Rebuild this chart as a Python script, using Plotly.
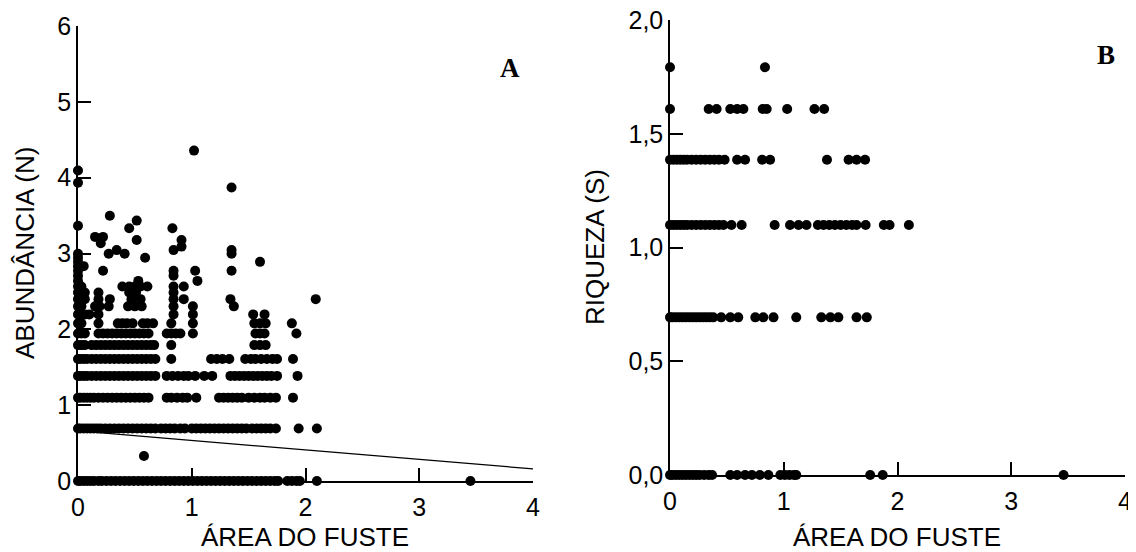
import plotly.graph_objects as go

# ---------------- Panel A : ABUNDÂNCIA (N) vs ÁREA DO FUSTE ----------------
# x positions (área do fuste) of points lying on each abundance level (ln N)
area_A_lvl_000 = [0, 0.02, 0.05, 0.08, 0.11, 0.14, 0.18, 0.21, 0.25, 0.29, 0.33, 0.37, 0.41, 0.45,
                  0.49, 0.53, 0.57, 0.61, 0.65, 0.69, 0.73, 0.77, 0.81, 0.85, 0.89, 0.93, 0.97, 1.01,
                  1.05, 1.09, 1.13, 1.17, 1.21, 1.25, 1.29, 1.33, 1.37, 1.41, 1.45, 1.49, 1.53, 1.57,
                  1.61, 1.65, 1.69, 1.73, 1.76, 1.84, 1.88, 1.92, 1.95, 2.1, 3.45]
area_A_lvl_069 = [0, 0.02, 0.05, 0.08, 0.11, 0.14, 0.17, 0.2, 0.24, 0.28, 0.32, 0.36, 0.4, 0.44,
                  0.48, 0.52, 0.56, 0.6, 0.64, 0.68, 0.73, 0.77, 0.81, 0.85, 0.9, 0.94, 1.0, 1.04,
                  1.08, 1.12, 1.16, 1.2, 1.24, 1.28, 1.32, 1.36, 1.4, 1.44, 1.48, 1.53, 1.57, 1.61,
                  1.65, 1.69, 1.74, 1.94, 2.1]
area_A_lvl_110 = [0, 0.02, 0.05, 0.08, 0.11, 0.14, 0.18, 0.22, 0.26, 0.3, 0.34, 0.38, 0.42, 0.46,
                  0.5, 0.54, 0.58, 0.62, 0.78, 0.82, 0.87, 0.92, 0.96, 1.04, 1.24, 1.28, 1.32, 1.36,
                  1.4, 1.44, 1.5, 1.55, 1.6, 1.64, 1.69, 1.74, 1.89]
area_A_lvl_139 = [0, 0.02, 0.05, 0.08, 0.12, 0.16, 0.2, 0.24, 0.28, 0.32, 0.36, 0.4, 0.44, 0.48,
                  0.52, 0.56, 0.6, 0.64, 0.68, 0.78, 0.83, 0.88, 0.93, 0.97, 1.03, 1.11, 1.18, 1.34,
                  1.38, 1.42, 1.46, 1.5, 1.54, 1.58, 1.62, 1.66, 1.7, 1.75, 1.93]
area_A_lvl_161 = [0, 0.02, 0.05, 0.08, 0.12, 0.16, 0.2, 0.24, 0.28, 0.32, 0.36, 0.4, 0.44, 0.48,
                  0.52, 0.56, 0.6, 0.64, 0.68, 0.82, 1.17, 1.22, 1.27, 1.33, 1.47, 1.52, 1.56, 1.61,
                  1.66, 1.71, 1.75, 1.89]
area_A_lvl_179 = [0, 0.03, 0.06, 0.12, 0.16, 0.2, 0.24, 0.28, 0.32, 0.36, 0.4, 0.44, 0.48, 0.52,
                  0.56, 0.6, 0.64, 0.67, 0.82, 1.55, 1.6, 1.65]
area_A_lvl_195 = [0, 0.03, 0.06, 0.18, 0.22, 0.26, 0.3, 0.34, 0.38, 0.42, 0.46, 0.5, 0.54, 0.58,
                  0.62, 0.78, 0.82, 0.86, 0.9, 1.01, 1.56, 1.6, 1.64, 1.92]

# sparse upper points (paired x / y)
upper_area_A = [0, 0.03, 0.18, 0.35, 0.39, 0.43, 0.48, 0.57, 0.61, 0.66, 0.82, 1.01, 1.55, 1.6, 1.65, 1.88,
                0, 0.03, 0.06, 0.1, 0.18, 0.84, 1.01, 1.54, 1.64,
                0, 0.03, 0.15, 0.19, 0.27, 0.44, 0.5, 0.56, 0.84, 1.01, 1.37,
                0, 0.03, 0.06, 0.18, 0.28, 0.47, 0.55, 0.84, 0.93, 1.34, 2.09,
                0, 0.06, 0.18, 0.45, 0.51, 0.84,
                0, 0.03, 0.39, 0.45, 0.5, 0.55, 0.61, 0.84, 0.93,
                0, 0.53, 1.05,
                0, 0.84,
                0, 0.22, 0.84, 1.03, 1.35,
                0, 0.05,
                0, 1.6,
                0, 0.59,
                0, 0.27, 0.41, 1.35,
                0.34, 0.84, 1.35,
                0.91,
                0.2,
                0.516, 0.91,
                0.15, 0.22,
                0.45, 0.83,
                0,
                0.516,
                0.28,
                1.35,
                0,
                0,
                1.02,
                0.58]
upper_abund_A = [2.079] * 16 + [2.197] * 9 + [2.303] * 11 + [2.398] * 11 + [2.485] * 6 + \
                [2.565] * 9 + [2.639] * 3 + [2.708] * 2 + [2.773] * 5 + [2.833] * 2 + \
                [2.890] * 2 + [2.944] * 2 + [2.996] * 4 + [3.045] * 3 + [3.091] + [3.135] + \
                [3.178] * 2 + [3.219] * 2 + [3.332] * 2 + [3.367] + [3.434] + [3.497] + \
                [3.871] + [3.932] + [4.094] + [4.357] + [0.33]

# fitted regression line (end points)
fit_area_A = [0, 4]
fit_abund_A = [0.66, 0.16]

# ---------------- Panel B : RIQUEZA (S) vs ÁREA DO FUSTE ----------------
area_B_lvl_000 = [0, 0.02, 0.05, 0.08, 0.11, 0.14, 0.17, 0.2, 0.23, 0.26, 0.3, 0.34, 0.37, 0.53,
                  0.59, 0.66, 0.72, 0.79, 0.865, 0.97, 1.01, 1.05, 1.09, 1.11, 1.76, 1.87, 3.46]
area_B_lvl_069 = [0, 0.02, 0.05, 0.08, 0.11, 0.14, 0.17, 0.2, 0.23, 0.26, 0.29, 0.32, 0.35, 0.38,
                  0.45, 0.53, 0.6, 0.75, 0.82, 0.91, 1.11, 1.33, 1.41, 1.48, 1.64, 1.73]
area_B_lvl_110 = [0, 0.03, 0.06, 0.09, 0.12, 0.15, 0.19, 0.23, 0.27, 0.31, 0.35, 0.39, 0.43, 0.47,
                  0.54, 0.63, 0.92, 1.055, 1.13, 1.2, 1.3, 1.35, 1.4, 1.45, 1.5, 1.55, 1.6, 1.64,
                  1.72, 1.88, 1.93, 2.1]
area_B_lvl_139 = [0, 0.03, 0.06, 0.09, 0.12, 0.15, 0.19, 0.23, 0.27, 0.31, 0.35, 0.39, 0.43, 0.48,
                  0.59, 0.66, 0.81, 0.88, 1.38, 1.57, 1.64, 1.715]
area_B_lvl_161 = [0, 0.34, 0.41, 0.53, 0.59, 0.645, 0.815, 0.85, 1.03, 1.27, 1.355]
area_B_lvl_179 = [0, 0.835]

ticks_A_x = [0, 1, 2, 3, 4]
ticks_A_y = [0, 1, 2, 3, 4, 5, 6]
ticks_B_x = [0, 1, 2, 3, 4]
ticks_B_y = [0, 0.5, 1.0, 1.5, 2.0]
ticks_B_y_text = ["0,0", "0,5", "1,0", "1,5", "2,0"]

# ------------------------------------------------------------------------
xa, ya = [], []
for lvl, xs in [(0.0, area_A_lvl_000), (0.693, area_A_lvl_069), (1.099, area_A_lvl_110),
                (1.386, area_A_lvl_139), (1.609, area_A_lvl_161), (1.792, area_A_lvl_179),
                (1.946, area_A_lvl_195)]:
    xa += xs
    ya += [lvl] * len(xs)
xa += upper_area_A
ya += upper_abund_A

xb, yb = [], []
for lvl, xs in [(0.0, area_B_lvl_000), (0.693, area_B_lvl_069), (1.099, area_B_lvl_110),
                (1.386, area_B_lvl_139), (1.609, area_B_lvl_161), (1.792, area_B_lvl_179)]:
    xb += xs
    yb += [lvl] * len(xs)

OFF = 8  # default page body margin in the browser
W, H = 1136 - OFF, 552 - OFF
FONT = "Liberation Sans, Arial, Helvetica, sans-serif"
mk = dict(color="black", size=10)

fig = go.Figure()
fig.add_trace(go.Scatter(x=fit_area_A, y=fit_abund_A, mode="lines",
                         line=dict(color="black", width=1.2), xaxis="x", yaxis="y",
                         cliponaxis=False, showlegend=False))
fig.add_trace(go.Scatter(x=xa, y=ya, mode="markers", marker=mk, xaxis="x", yaxis="y",
                         cliponaxis=False, showlegend=False))
fig.add_trace(go.Scatter(x=xb, y=yb, mode="markers", marker=mk, xaxis="x2", yaxis="y2",
                         cliponaxis=False, showlegend=False))

def px_x(p):
    return (p - OFF) / W

def px_y(p):
    return 1 - (p - OFF) / H

axis_common = dict(showgrid=False, zeroline=False, showline=True, linecolor="black", linewidth=1.5,
                   ticks="inside", ticklen=13, tickwidth=1.5, tickcolor="black", automargin=False,
                   ticklabeloverflow="allow",
                   tickfont=dict(family=FONT, size=25, color="black"))

fig.update_layout(
    template="none",
    width=W, height=H, margin=dict(l=0, r=0, t=0, b=0, autoexpand=False),
    paper_bgcolor="white", plot_bgcolor="white",
    font=dict(family=FONT, color="black"),
    xaxis=dict(domain=[px_x(78), px_x(533)], range=[0, 4], anchor="y",
               tickvals=ticks_A_x, ticklabelstandoff=3, **axis_common),
    yaxis=dict(domain=[px_y(481), px_y(26)], range=[0, 6], anchor="x",
               tickvals=ticks_A_y, ticklabelstandoff=0, **axis_common),
    xaxis2=dict(domain=[px_x(670), px_x(1125)], range=[0, 4], anchor="y2",
                tickvals=ticks_B_x, ticklabelstandoff=3, **axis_common),
    yaxis2=dict(domain=[px_y(475), px_y(20)], range=[0, 2], anchor="x2",
                tickvals=ticks_B_y, ticktext=ticks_B_y_text, ticklabelstandoff=0, **axis_common),
)

title_font = dict(family=FONT, size=26, color="black")
ann = [
    dict(text="ÁREA DO FUSTE", x=px_x(305), y=px_y(537), font=title_font),
    dict(text="ÁREA DO FUSTE", x=px_x(897), y=px_y(537), font=title_font),
    dict(text="ABUNDÂNCIA (N)", x=px_x(25), y=px_y(253), font=title_font, textangle=-90),
    dict(text="RIQUEZA (S)", x=px_x(595), y=px_y(247), font=title_font, textangle=-90),
    dict(text="<b>A</b>", x=px_x(510), y=px_y(68),
         font=dict(family="Liberation Serif, Times New Roman, serif", size=27, color="black")),
    dict(text="<b>B</b>", x=px_x(1106), y=px_y(55),
         font=dict(family="Liberation Serif, Times New Roman, serif", size=27, color="black")),
]
for a in ann:
    a.update(xref="paper", yref="paper", showarrow=False, xanchor="center", yanchor="middle")
fig.update_layout(annotations=ann)

fig.write_html("out.html")
